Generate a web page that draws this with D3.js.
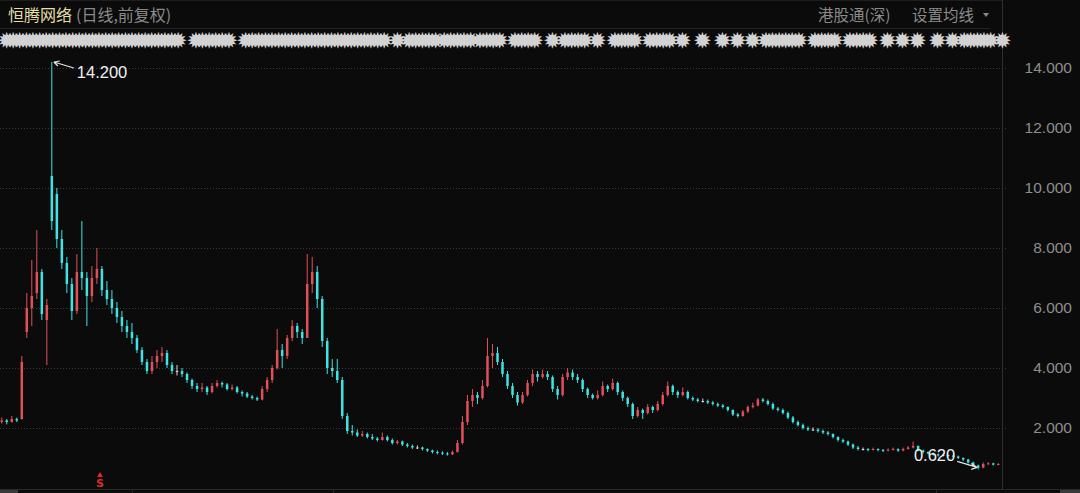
<!DOCTYPE html>
<html><head><meta charset="utf-8">
<script src="https://cdn.jsdelivr.net/npm/d3@7/dist/d3.min.js"></script>
<style>
html,body{margin:0;padding:0;background:#0b0b0b;}
svg{display:block;}
text{font-family:"Noto Sans CJK SC","Noto Sans",sans-serif;}
</style></head>
<body>
<svg id="chart" width="1080" height="493"></svg>
<script>
// ---------- data ----------
const titleName = "恒腾网络";
const titleSub = "(日线,前复权)";
const rightLabels = ["港股通(深)", "设置均线"];
const yTicks = [2, 4, 6, 8, 10, 12, 14];
const maxLabel = "14.200";
const minLabel = "0.620";

const opens = [
2.20,2.25,2.20,2.30,2.30,5.20,6.00,6.50,7.20,5.60,
10.4,9.80,8.30,7.50,6.80,5.90,7.20,7.00,6.40,7.00,
7.30,6.60,6.30,6.00,5.70,5.40,5.20,5.00,4.60,4.20,
3.90,4.20,4.40,4.50,4.10,3.90,3.90,3.80,3.60,3.40,
3.30,3.35,3.20,3.40,3.50,3.45,3.30,3.35,3.20,3.15,
3.05,3.00,2.95,3.30,3.60,4.00,4.60,4.40,5.00,5.40,
5.20,5.00,6.80,7.20,6.30,4.90,4.00,3.90,3.60,2.40,
1.90,1.85,1.75,1.80,1.70,1.65,1.60,1.70,1.60,1.50,
1.55,1.45,1.40,1.35,1.35,1.30,1.25,1.20,1.18,1.15,
1.12,1.20,1.50,2.20,2.90,3.10,3.00,3.40,4.40,4.50,
4.20,3.80,3.40,3.10,2.85,3.10,3.50,3.80,3.70,3.80,
3.70,3.30,3.10,3.70,3.85,3.70,3.60,3.30,3.10,3.00,
3.10,3.40,3.30,3.50,3.20,3.00,2.80,2.40,2.60,2.50,
2.70,2.60,2.80,3.10,3.40,3.20,3.10,3.20,3.00,2.95,
2.90,2.90,2.85,2.80,2.75,2.70,2.60,2.45,2.40,2.55,
2.70,2.75,2.95,2.90,2.80,2.65,2.60,2.50,2.35,2.20,
2.10,2.00,1.95,1.95,1.90,1.85,1.80,1.70,1.60,1.55,
1.45,1.35,1.30,1.30,1.28,1.30,1.27,1.25,1.28,1.30,
1.25,1.30,1.35,1.40,1.25,1.20,1.15,1.12,1.10,1.10,
1.08,1.05,1.00,0.95,0.85,0.75,0.68,0.80,0.82,0.78];

const highs = [
2.35,2.30,2.40,2.35,4.40,6.50,7.60,8.60,7.30,6.30,
14.2,10.0,8.60,7.70,7.00,7.80,8.90,7.20,7.40,8.00,
7.40,6.90,6.60,6.20,5.90,5.60,5.50,5.10,4.70,4.30,
4.40,4.60,4.70,4.60,4.20,4.10,4.00,3.85,3.65,3.50,
3.50,3.40,3.50,3.60,3.55,3.50,3.45,3.40,3.25,3.20,
3.10,3.05,3.40,3.70,4.10,5.30,4.80,5.10,5.60,5.50,
5.30,7.80,7.70,7.40,6.40,5.00,4.30,4.30,3.70,2.50,
2.10,1.95,1.90,1.85,1.80,1.70,1.85,1.75,1.65,1.60,
1.58,1.50,1.45,1.42,1.38,1.32,1.28,1.25,1.22,1.20,
1.25,1.60,2.40,3.10,3.30,3.20,3.60,5.00,4.80,4.70,
4.30,3.90,3.50,3.20,3.20,3.60,3.95,3.90,3.95,3.90,
3.75,3.40,3.80,4.00,3.95,3.80,3.65,3.35,3.15,3.25,
3.55,3.45,3.65,3.55,3.25,3.05,2.85,2.70,2.65,2.80,
2.75,2.90,3.20,3.55,3.45,3.25,3.35,3.25,3.05,3.00,
2.98,2.95,2.90,2.85,2.80,2.72,2.62,2.50,2.60,2.75,
2.85,3.00,3.00,2.95,2.85,2.70,2.65,2.55,2.40,2.25,
2.15,2.05,2.02,2.00,1.95,1.90,1.82,1.72,1.65,1.58,
1.48,1.40,1.35,1.33,1.35,1.32,1.30,1.32,1.35,1.32,
1.35,1.40,1.55,1.42,1.28,1.22,1.18,1.15,1.14,1.12,
1.10,1.08,1.02,0.97,0.88,0.78,0.85,0.86,0.84,0.83];

const lows = [
2.15,2.12,2.18,2.20,2.28,5.00,5.40,6.30,5.60,4.10,
8.60,8.00,7.30,6.50,5.60,5.80,6.60,5.40,6.20,6.80,
6.40,6.10,5.80,5.50,5.20,5.00,4.80,4.50,4.10,3.80,
3.80,4.00,4.20,4.00,3.80,3.75,3.70,3.50,3.30,3.20,
3.20,3.10,3.15,3.35,3.35,3.25,3.25,3.15,3.05,3.00,
2.95,2.90,2.92,3.20,3.50,3.95,4.00,4.30,4.90,5.00,
4.80,5.00,6.50,6.00,4.70,3.80,3.70,3.50,2.30,1.80,
1.75,1.70,1.70,1.65,1.60,1.55,1.58,1.55,1.45,1.45,
1.40,1.35,1.30,1.30,1.25,1.20,1.15,1.12,1.10,1.08,
1.10,1.18,1.45,2.10,2.70,2.80,2.95,3.35,4.00,4.10,
3.70,3.30,3.00,2.75,2.80,3.05,3.40,3.55,3.65,3.60,
3.20,2.95,3.05,3.60,3.60,3.50,3.20,3.00,2.95,2.95,
3.05,3.20,3.25,3.10,2.90,2.70,2.30,2.35,2.30,2.45,
2.50,2.55,2.75,3.05,3.10,3.00,3.05,2.95,2.90,2.85,
2.85,2.80,2.75,2.70,2.65,2.55,2.40,2.35,2.38,2.50,
2.65,2.72,2.85,2.75,2.60,2.55,2.45,2.30,2.15,2.05,
1.95,1.90,1.90,1.85,1.80,1.75,1.65,1.55,1.50,1.40,
1.30,1.25,1.25,1.22,1.25,1.22,1.20,1.22,1.25,1.20,
1.22,1.28,1.32,1.22,1.15,1.12,1.08,1.05,1.05,1.04,
1.02,0.97,0.90,0.82,0.72,0.62,0.66,0.78,0.75,0.76];

const closes = [
2.25,2.20,2.30,2.25,4.20,6.00,6.40,7.20,5.80,6.10,
8.90,8.30,7.50,6.80,5.90,7.20,7.00,6.40,7.00,7.30,
6.60,6.30,6.00,5.70,5.40,5.20,5.00,4.60,4.20,3.90,
4.20,4.40,4.50,4.10,3.90,3.90,3.80,3.60,3.40,3.30,
3.35,3.20,3.40,3.50,3.45,3.30,3.35,3.20,3.15,3.05,
3.00,2.95,3.30,3.60,4.00,4.60,4.40,5.00,5.40,5.20,
5.00,6.80,7.20,6.30,4.90,4.00,3.90,3.60,2.40,1.90,
1.85,1.75,1.80,1.70,1.65,1.60,1.70,1.60,1.50,1.55,
1.45,1.40,1.35,1.35,1.30,1.25,1.20,1.18,1.15,1.12,
1.20,1.50,2.20,2.90,3.10,3.00,3.40,4.40,4.50,4.20,
3.80,3.40,3.10,2.85,3.10,3.50,3.80,3.70,3.80,3.70,
3.30,3.10,3.70,3.85,3.70,3.60,3.30,3.10,3.00,3.10,
3.40,3.30,3.50,3.20,3.00,2.80,2.40,2.60,2.50,2.70,
2.60,2.80,3.10,3.40,3.20,3.10,3.20,3.00,2.95,2.90,
2.90,2.85,2.80,2.75,2.70,2.60,2.45,2.40,2.55,2.70,
2.75,2.95,2.90,2.80,2.65,2.60,2.50,2.35,2.20,2.10,
2.00,1.95,1.95,1.90,1.85,1.80,1.70,1.60,1.55,1.45,
1.35,1.30,1.30,1.28,1.30,1.27,1.25,1.28,1.30,1.25,
1.30,1.35,1.40,1.25,1.20,1.15,1.12,1.10,1.10,1.08,
1.05,1.00,0.95,0.85,0.75,0.68,0.80,0.82,0.78,0.80];

// masked indicator row: runs of glyph cells (5px cells)
const maskRuns = [[1,35],[39,45],[49,76],[79,79],[82,86],[89,93],[96,99],[103,106],[110,110],[113,116],
  [119,119],[123,126],[130,133],[136,136],[140,140],[144,144],[147,147],[150,150],[153,159],[163,166],
  [170,173],[177,177],[180,180],[183,183],[187,187],[190,190],[193,197],[200,200]];

// ---------- drawing ----------
const W = 1080, H = 493;
const plotRight = 1002, plotBottom = 489;
const svg = d3.select("#chart");
svg.append("rect").attr("width", W).attr("height", H).attr("fill", "#0b0b0b");

const n = closes.length;
const x = d3.scaleBand().domain(d3.range(n)).range([0, 1000]).paddingInner(0.5).paddingOuter(0.1);
const y = d3.scaleLinear().domain([0, 14]).range([488, 68]);

// frame lines
svg.append("line").attr("x1", 0).attr("x2", plotRight).attr("y1", 0.5).attr("y2", 0.5).attr("stroke", "#1e1e1e");
svg.append("line").attr("x1", 0).attr("x2", 990).attr("y1", 28.5).attr("y2", 28.5).attr("stroke", "#222");
svg.append("line").attr("x1", plotRight + 0.5).attr("x2", plotRight + 0.5).attr("y1", 0).attr("y2", plotBottom).attr("stroke", "#2e2e2e");
svg.append("line").attr("x1", 0).attr("x2", W).attr("y1", plotBottom + 0.5).attr("y2", plotBottom + 0.5).attr("stroke", "#2a2a2a");
svg.append("rect").attr("x", 0).attr("y", plotBottom + 1).attr("width", 18).attr("height", 3).attr("fill", "#3a3a3a");
svg.append("rect").attr("x", 1060).attr("y", plotBottom + 1).attr("width", 20).attr("height", 3).attr("fill", "#3a3a3a");
[132, 333, 936].forEach(px => svg.append("line").attr("x1", px + 0.5).attr("x2", px + 0.5)
  .attr("y1", plotBottom).attr("y2", H).attr("stroke", "#2a2a2a"));

// grid + y axis
const yAxis = d3.axisRight(y).tickValues(yTicks).tickFormat(d3.format(".3f")).tickSize(0).tickPadding(0);
const ga = svg.append("g").attr("transform", `translate(${plotRight},0)`).call(yAxis);
ga.select(".domain").remove();
ga.selectAll("text").attr("x", 70).attr("text-anchor", "end").attr("fill", "#8e8e8e")
  .style("font-family", "'Liberation Sans', Arial, sans-serif").style("font-size", "15.5px");
svg.append("g").selectAll("line").data(yTicks).join("line")
  .attr("x1", 0).attr("x2", plotRight + 4)
  .attr("y1", d => Math.round(y(d)) + 0.5).attr("y2", d => Math.round(y(d)) + 0.5)
  .attr("stroke", "#3a3a3a").attr("stroke-dasharray", "1,2");

// title
const t = svg.append("text").attr("x", 8).attr("y", 21).style("font-size", "16px");
t.append("tspan").attr("fill", "#e4dfa6").text(titleName);
t.append("tspan").attr("fill", "#8a8a8a").attr("dx", 4).text(titleSub);
svg.append("text").attr("x", 818).attr("y", 21).attr("fill", "#8a8a8a").style("font-size", "15.5px").text(rightLabels[0]);
svg.append("text").attr("x", 912).attr("y", 21).attr("fill", "#8a8a8a").style("font-size", "15.5px").text(rightLabels[1]);
svg.append("path").attr("d", "M983,13 L989,13 L986,17 Z").attr("fill", "#8a8a8a");

// masked row: small starbursts, stroked so they read as the reference's blobs
const fs = 7.5, sp = 6.6;
const glyphX = [];
maskRuns.forEach(([a, b]) => {
  const x0 = a * 5 - 4, x1 = b * 5 + 9;
  const cnt = Math.max(1, Math.floor((x1 - x0) / sp));
  const start = (x0 + x1) / 2 - cnt * sp / 2;
  for (let k = 0; k < cnt; k++) glyphX.push(start + k * sp);
});
svg.append("g").selectAll("text").data(glyphX).join("text")
  .attr("x", d => d).attr("y", 43).attr("fill", "#d2d2d2")
  .attr("stroke", "#d2d2d2").attr("stroke-width", 3.6).attr("stroke-linejoin", "miter")
  .style("font-family", "'DejaVu Sans'").style("font-size", fs + "px").text("✹");

// candles
const data = d3.range(n).map(i => ({i, o: opens[i], h: highs[i], l: lows[i], c: closes[i]}));
const col = d => d.c > d.o ? "#e0505a" : (d.c < d.o ? "#3fe3e3" : "#d8d8d8");
const cg = svg.append("g");
cg.selectAll("line").data(data).join("line")
  .attr("x1", d => x(d.i) + x.bandwidth() / 2).attr("x2", d => x(d.i) + x.bandwidth() / 2)
  .attr("y1", d => y(d.h)).attr("y2", d => y(d.l))
  .attr("stroke", col).attr("stroke-width", 1);
cg.selectAll("rect").data(data).join("rect")
  .attr("x", d => x(d.i)).attr("width", x.bandwidth())
  .attr("y", d => y(Math.max(d.o, d.c)))
  .attr("height", d => Math.max(1, Math.abs(y(d.o) - y(d.c))))
  .attr("fill", col);

// extreme annotations
const maxD = data.reduce((a, b) => b.h > a.h ? b : a);
const minD = data.reduce((a, b) => b.l < a.l ? b : a);
const mx = x(maxD.i) + x.bandwidth() / 2 + 2, my = y(maxD.h);
svg.append("path").attr("d", `M${mx + 20},${my + 6} L${mx},${my} M${mx},${my} L${mx + 6},${my - 1} M${mx},${my} L${mx + 4},${my + 4}`)
  .attr("stroke", "#e6e6e6").attr("fill", "none").attr("stroke-width", 1.2);
svg.append("text").attr("x", mx + 23).attr("y", my + 16).attr("fill", "#f0f0f0")
  .style("font-family", "'Liberation Sans', Arial, sans-serif").style("font-size", "16.5px").text(maxLabel);
const nx = x(minD.i) + x.bandwidth() / 2 - 1, ny = y(minD.l) - 2;
svg.append("path").attr("d", `M${nx - 20},${ny - 6} L${nx},${ny} M${nx},${ny} L${nx - 6},${ny - 4} M${nx},${ny} L${nx - 6},${ny + 2}`)
  .attr("stroke", "#e6e6e6").attr("fill", "none").attr("stroke-width", 1.2);
svg.append("text").attr("x", nx - 22).attr("y", ny - 6).attr("text-anchor", "end").attr("fill", "#f0f0f0")
  .style("font-family", "'Liberation Sans', Arial, sans-serif").style("font-size", "16.5px").text(minLabel);

// red S marker
svg.append("path").attr("d", "M97,477 L100,472 L103,477 Z").attr("fill", "#e02828");
svg.append("text").attr("x", 100).attr("y", 487).attr("text-anchor", "middle").attr("fill", "#e02828")
  .style("font-family", "'DejaVu Sans'").style("font-weight", "bold").style("font-size", "11px").text("S");
</script>
</body></html>
